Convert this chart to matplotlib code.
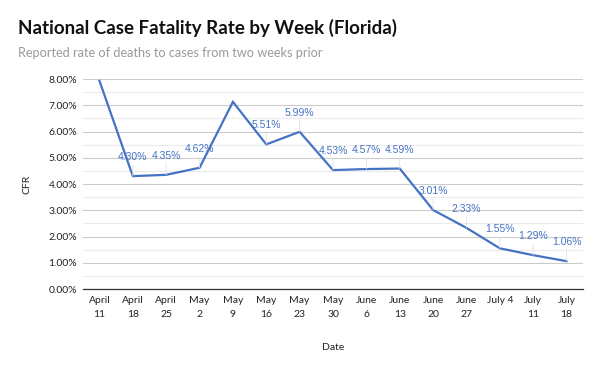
import matplotlib
matplotlib.use("Agg")
import matplotlib.pyplot as plt
from matplotlib.ticker import MultipleLocator, FuncFormatter

weeks = ["April\n11", "April\n18", "April\n25", "May\n2", "May\n9", "May\n16", "May\n23",
         "May\n30", "June\n6", "June\n13", "June\n20", "June\n27", "July 4", "July\n11", "July\n18"]
cfr = [7.93, 4.30, 4.35, 4.62, 7.13, 5.51, 5.99, 4.53, 4.57, 4.59, 3.01, 2.33, 1.55, 1.29, 1.06]
show_label = [False, True, True, True, False, True, True, True, True, True, True, True, True, True, True]

fig = plt.figure(figsize=(6.0, 3.71), dpi=100)
ax = fig.add_axes([0.138, 0.221, 0.834, 0.566])

x = list(range(len(cfr)))
line_color = "#4472C4"
ax.plot(x, cfr, color=line_color, lw=1.6, solid_joinstyle="miter", zorder=3)

for xi, v, s in zip(x, cfr, show_label):
    if s:
        ax.annotate(f"{v:.2f}%", xy=(xi, v), xytext=(0, 10), textcoords="offset points",
                    ha="center", va="bottom", fontsize=7.5, color=line_color,
                    family="Liberation Sans",
                    arrowprops=dict(arrowstyle="-", color="#e0e0e0", lw=0.6,
                                    shrinkA=0, shrinkB=0), zorder=4)

ax.set_xlim(-0.5, len(cfr) - 0.5)
ax.set_ylim(0, 8)
ax.yaxis.set_major_locator(MultipleLocator(1))
ax.yaxis.set_minor_locator(MultipleLocator(0.5))
ax.yaxis.set_major_formatter(FuncFormatter(lambda v, p: f"{v:.2f}%"))
ax.grid(which="major", axis="y", color="#cccccc", lw=0.8)
ax.grid(which="minor", axis="y", color="#ebebeb", lw=0.8)
ax.set_axisbelow(True)
for sp in ["top", "right", "left"]:
    ax.spines[sp].set_visible(False)
ax.spines["bottom"].set_color("#333333")
ax.spines["bottom"].set_linewidth(0.9)
ax.tick_params(axis="y", which="both", length=0, labelsize=7.5, labelcolor="#222222", pad=4)
ax.tick_params(axis="x", length=0, labelsize=7.5, labelcolor="#222222", pad=5)
ax.set_xticks(x)
ax.set_xticklabels(weeks, family="Lato", linespacing=1.75, va="top")
for lab in ax.get_yticklabels():
    lab.set_family("Lato")

ax.set_ylabel("CFR", family="Lato", fontsize=7.5, color="#222222", labelpad=12)
ax.set_xlabel("Date", family="Lato", fontsize=7.5, color="#222222", labelpad=17)

fig.text(0.03, 0.925, "National Case Fatality Rate by Week (Florida)", family="Lato",
         fontweight="bold", fontsize=13.5, color="#111111", va="center")
fig.text(0.03, 0.858, "Reported rate of deaths to cases from two weeks prior", family="Lato",
         fontsize=9.2, color="#9a9a9a", va="center")

fig.savefig("out.png", dpi=100)
